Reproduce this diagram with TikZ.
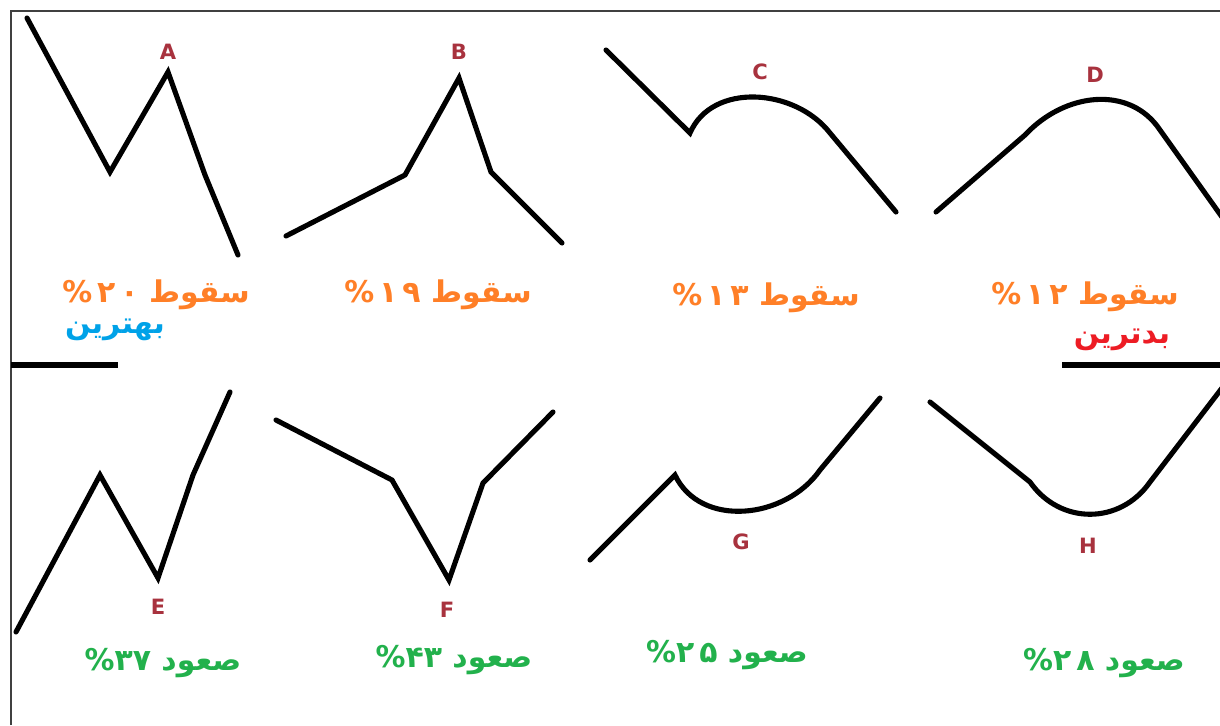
\documentclass[tikz,border=0pt]{standalone}
\usepackage{fontspec}
\TeXXeTstate=1
\newfontfamily\arabicfont[Script=Arabic]{DejaVu Sans}
\newfontfamily\latinbold{DejaVu Sans}
\definecolor{fallc}{HTML}{FF7F27}
\definecolor{risec}{HTML}{22B14C}
\definecolor{bestc}{HTML}{00A2E8}
\definecolor{worstc}{HTML}{ED1C24}
\definecolor{letterc}{HTML}{A8323E}
\definecolor{framec}{HTML}{404040}
\tikzset{
  curve/.style={line width=2.9pt, line join=miter, line cap=round, black},
  letterlbl/.style={text=letterc, font=\latinbold\bfseries\fontsize{12}{14}\selectfont, inner sep=0pt},
  falllbl/.style={text=fallc, font=\arabicfont\bfseries\fontsize{17}{20}\selectfont, inner sep=0pt},
  riselbl/.style={text=risec, font=\arabicfont\bfseries\fontsize{17}{20}\selectfont, inner sep=0pt},
  bestlbl/.style={text=bestc, font=\arabicfont\bfseries\fontsize{17}{20}\selectfont, inner sep=0pt},
  worstlbl/.style={text=worstc, font=\arabicfont\bfseries\fontsize{17}{20}\selectfont, inner sep=0pt},
  framel/.style={draw=framec, line width=0.9pt}
}
\begin{document}
\begin{tikzpicture}[x=0.02cm, y=-0.02cm]
\useasboundingbox (0,0) rectangle (1220,725);
\fill[white] (0,0) rectangle (1220,725);
% frame
\draw[framel] (11,725) -- (11,11) -- (1220,11);
% separators
\draw[line width=2.9pt] (11,365) -- (118,365);
\draw[line width=2.9pt] (1062,365) -- (1220,365);
% A
\draw[curve] (27,18) -- (110,172) -- (168,72) -- (205,175) -- (238,255);
\node[letterlbl] (la) at (168,52) {A};
% B
\draw[curve] (286,236) -- (405,175) -- (459,78) -- (491,172) -- (562,243);
\node[letterlbl] (lb) at (459,52) {B};
% C
\draw[curve] (606,50) -- (690,133) .. controls (712,82) and (795,88) .. (830,133) -- (896,212);
\node[letterlbl] (lc) at (760,72) {C};
% D
\draw[curve] (936,212) -- (1025,135) .. controls (1065,92) and (1130,85) .. (1160,130) -- (1222,217);
\node[letterlbl] (ld) at (1095,75) {D};
% E
\draw[curve] (16,632) -- (100,475) -- (158,578) -- (193,475) -- (230,392);
\node[letterlbl] (le) at (158,607) {E};
% F
\draw[curve] (276,420) -- (392,480) -- (449,580) -- (483,483) -- (553,412);
\node[letterlbl] (lf) at (447,610) {F};
% G
\draw[curve] (590,560) -- (675,475) .. controls (700,528) and (785,520) .. (820,470) -- (880,398);
\node[letterlbl] (lg) at (741,542) {G};
% H
\draw[curve] (930,402) -- (1030,482) .. controls (1060,525) and (1120,525) .. (1150,482) -- (1222,388);
\node[letterlbl] (lh) at (1088,546) {H};
% texts
\node[falllbl] (ta) at (156,295) {\beginR سقوط \beginL ۲\,۰\endL\,\%\endR};
\node[bestlbl] (tbest) at (115,330) {\beginR بهترین\endR};
\node[falllbl] (tb) at (438,295) {\beginR سقوط \beginL ۱\,۹\endL\,\%\endR};
\node[falllbl] (tc) at (766,298) {\beginR سقوط \beginL ۱\,۳\endL\,\%\endR};
\node[falllbl] (td) at (1085,297) {\beginR سقوط \beginL ۱\,۲\endL\,\%\endR};
\node[worstlbl] (tworst) at (1122,340) {\beginR بدترین\endR};
\node[riselbl] (te) at (163,663) {\beginR صعود \beginL ۳۷\endL\%\endR};
\node[riselbl] (tf) at (454,660) {\beginR صعود \beginL ۴۳\endL\%\endR};
\node[riselbl] (tg) at (727,655) {\beginR صعود \beginL ۲\,۵\endL\%\endR};
\node[riselbl] (th) at (1104,663) {\beginR صعود \beginL ۲\,۸\endL\%\endR};
\end{tikzpicture}
\end{document}
